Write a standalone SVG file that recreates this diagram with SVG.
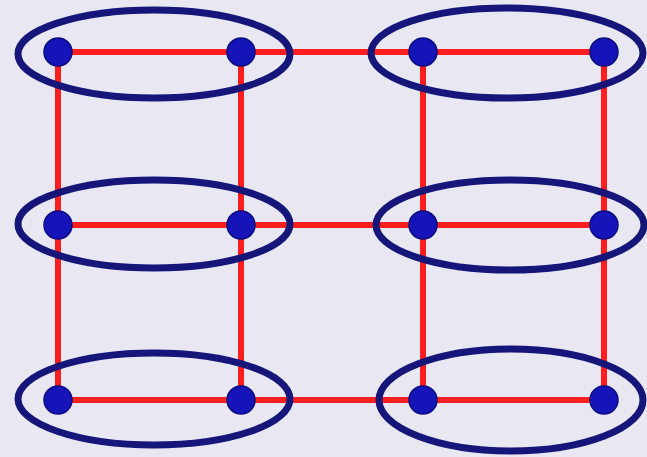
<svg xmlns="http://www.w3.org/2000/svg" width="647" height="457" viewBox="0 0 647 457">
<style>
.edge{stroke:#fb1e1e;stroke-width:6;fill:none;stroke-linecap:butt}
.dot{fill:#1414b8;stroke:#0c0c80;stroke-width:1.5}
.ring{fill:none;stroke:#15157a;stroke-width:7}
</style>
<rect width="647" height="457" fill="#e9e7f2"/>
<g id="connectors">
<line class="edge" x1="58" y1="52" x2="604" y2="52"/>
<line class="edge" x1="58" y1="225" x2="604" y2="225"/>
<line class="edge" x1="58" y1="400" x2="604" y2="400"/>
<line class="edge" x1="58" y1="52" x2="58" y2="400"/>
<line class="edge" x1="241" y1="52" x2="241" y2="400"/>
<line class="edge" x1="423" y1="52" x2="423" y2="400"/>
<line class="edge" x1="604" y1="52" x2="604" y2="400"/>
</g>
<g id="n1"><circle class="dot" cx="58" cy="52" r="14"/></g>
<g id="n2"><circle class="dot" cx="241" cy="52" r="14"/></g>
<g id="n3"><circle class="dot" cx="423" cy="52" r="14"/></g>
<g id="n4"><circle class="dot" cx="604" cy="52" r="14"/></g>
<g id="n5"><circle class="dot" cx="58" cy="225" r="14"/></g>
<g id="n6"><circle class="dot" cx="241" cy="225" r="14"/></g>
<g id="n7"><circle class="dot" cx="423" cy="225" r="14"/></g>
<g id="n8"><circle class="dot" cx="604" cy="225" r="14"/></g>
<g id="n9"><circle class="dot" cx="58" cy="400" r="14"/></g>
<g id="n10"><circle class="dot" cx="241" cy="400" r="14"/></g>
<g id="n11"><circle class="dot" cx="423" cy="400" r="14"/></g>
<g id="n12"><circle class="dot" cx="604" cy="400" r="14"/></g>
<g id="g1"><ellipse class="ring" cx="154" cy="54" rx="136" ry="44"/></g>
<g id="g2"><ellipse class="ring" cx="507" cy="53" rx="136" ry="45"/></g>
<g id="g3"><ellipse class="ring" cx="154" cy="224" rx="136" ry="44"/></g>
<g id="g4"><ellipse class="ring" cx="510" cy="225" rx="134" ry="45"/></g>
<g id="g5"><ellipse class="ring" cx="154" cy="399" rx="136" ry="46"/></g>
<g id="g6"><ellipse class="ring" cx="511" cy="400" rx="132" ry="51"/></g>
</svg>
